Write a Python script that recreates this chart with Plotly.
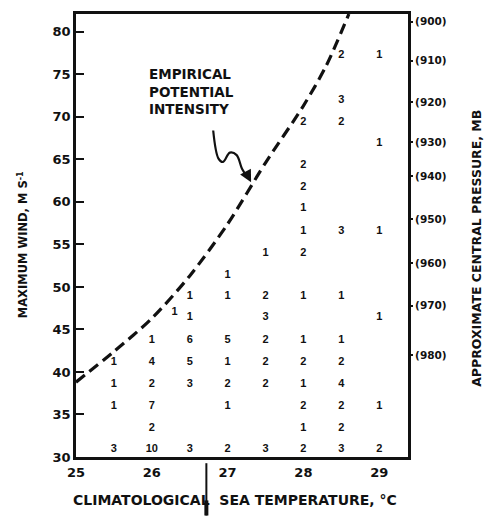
import plotly.graph_objects as go

# ---- data ----
point_temp = [25.5, 25.5, 25.5, 25.5,
              26.0, 26.0, 26.0, 26.0, 26.0, 26.0,
              26.3,
              26.5, 26.5, 26.5, 26.5, 26.5, 26.5,
              27.0, 27.0, 27.0, 27.0, 27.0, 27.0, 27.0,
              27.5, 27.5, 27.5, 27.5, 27.5, 27.5, 27.5,
              28.0, 28.0, 28.0, 28.0, 28.0, 28.0, 28.0, 28.0, 28.0, 28.0, 28.0, 28.0, 28.0,
              28.5, 28.5, 28.5, 28.5, 28.5, 28.5, 28.5, 28.5, 28.5, 28.5, 28.5,
              29.0, 29.0, 29.0, 29.0, 29.0, 29.0]
point_wind = [30.9, 36.0, 38.6, 41.2,
              30.9, 33.4, 36.0, 38.6, 41.2, 43.7,
              47.0,
              30.9, 38.6, 41.2, 43.7, 46.4, 48.9,
              30.9, 36.0, 38.6, 41.2, 43.7, 48.9, 51.4,
              30.9, 38.6, 41.2, 43.7, 46.4, 48.9, 54.0,
              30.9, 33.4, 36.0, 38.6, 41.2, 43.7, 48.9, 54.0, 56.6, 59.2, 61.7, 64.3, 69.4,
              30.9, 33.4, 36.0, 38.6, 41.2, 43.7, 48.9, 56.6, 69.4, 72.0, 77.2,
              30.9, 36.0, 46.4, 56.6, 66.9, 77.2]
point_count = [3, 1, 1, 1,
               10, 2, 7, 2, 4, 1,
               1,
               3, 3, 5, 6, 1, 1,
               2, 1, 2, 1, 5, 1, 1,
               3, 2, 2, 2, 3, 2, 1,
               2, 1, 2, 1, 2, 1, 1, 2, 1, 1, 2, 2, 2,
               3, 2, 2, 4, 2, 1, 1, 3, 2, 3, 2,
               2, 1, 1, 1, 1, 1]

curve_temp = [25.0, 25.5, 26.0, 26.5, 27.0, 27.5, 28.0, 28.3, 28.6]
curve_wind = [38.8, 42.4, 46.3, 51.3, 57.4, 64.6, 71.3, 76.0, 82.1]

x_ticks = [25, 26, 27, 28, 29]
y_ticks = [30, 35, 40, 45, 50, 55, 60, 65, 70, 75, 80]
pressure_labels = ["(900)", "(910)", "(920)", "(930)", "(940)", "(950)", "(960)", "(970)", "(980)"]
pressure_wind = [81.2, 76.6, 71.7, 67.0, 63.0, 58.0, 52.8, 47.8, 42.0]

arrow_temp = [26.81, 26.88, 26.94, 27.03, 27.12, 27.19, 27.27]
arrow_wind = [68.4, 65.1, 64.7, 65.8, 65.5, 63.9, 62.8]

FONT = "Liberation Sans"
TFONT = "DejaVu Sans"
INK = "#111111"

fig = go.Figure()

fig.add_trace(go.Scatter(
    x=curve_temp, y=curve_wind, mode="lines",
    line=dict(color=INK, width=3.2, dash="11px,6px", shape="spline", smoothing=0.8),
    hoverinfo="skip", showlegend=False))

fig.add_trace(go.Scatter(
    x=point_temp, y=point_wind, mode="text",
    text=[str(c) for c in point_count],
    textfont=dict(family=FONT, size=11, color=INK, weight="bold"),
    textposition="middle center", showlegend=False, hoverinfo="skip"))

# squiggly pointer line
fig.add_trace(go.Scatter(
    x=arrow_temp, y=arrow_wind, mode="lines",
    line=dict(color=INK, width=2.2, shape="spline", smoothing=1.0),
    hoverinfo="skip", showlegend=False))

# invisible trace so the right axis is drawn
fig.add_trace(go.Scatter(x=[25], y=[30], yaxis="y2", mode="markers",
                         marker=dict(opacity=0), showlegend=False, hoverinfo="skip"))

fig.add_annotation(x=26.53, y=73.0, xref="x", yref="y",
                   text="EMPIRICAL<br>POTENTIAL<br>INTENSITY", showarrow=False,
                   font=dict(family=TFONT, size=13.5, color=INK, weight="bold"),
                   align="left")
fig.add_annotation(x=27.31, y=62.3, ax=27.24, ay=63.5, xref="x", yref="y",
                   axref="x", ayref="y", text="", showarrow=True,
                   arrowhead=2, arrowsize=1.1, arrowwidth=2.2, arrowcolor=INK)

# axis titles
fig.add_annotation(x=0.479, y=-0.098, xref="paper", yref="paper",
                   text="CLIMATOLOGICAL  SEA TEMPERATURE, °C", showarrow=False,
                   xanchor="center", yanchor="middle",
                   font=dict(family=TFONT, size=14, color=INK, weight="bold"))
fig.add_annotation(x=-0.16, y=0.48, xref="paper", yref="paper",
                   text="MAXIMUM WIND, M S<sup>-1</sup>", showarrow=False, textangle=-90,
                   xanchor="center", yanchor="middle",
                   font=dict(family=TFONT, size=11.5, color=INK, weight="bold"))
fig.add_annotation(x=1.208, y=0.47, xref="paper", yref="paper",
                   text="APPROXIMATE CENTRAL PRESSURE, MB", showarrow=False, textangle=-90,
                   xanchor="center", yanchor="middle",
                   font=dict(family=TFONT, size=12.5, color=INK, weight="bold"))

# vertical marker below the x axis
fig.add_shape(type="line", xref="x", yref="paper", x0=26.72, x1=26.72,
              y0=-0.014, y1=-0.132, line=dict(color=INK, width=2))
fig.add_shape(type="line", xref="x", yref="paper", x0=26.72, x1=26.72,
              y0=-0.098, y1=-0.132, line=dict(color=INK, width=4))

axis_font = dict(family=TFONT, size=13, color=INK, weight="bold")
fig.update_layout(
    width=497, height=518,
    # the page body adds an 8px offset; margins compensate so the frame lands in place
    margin=dict(l=68, r=97, t=3, b=69),
    paper_bgcolor="white", plot_bgcolor="white",
    xaxis=dict(range=[25, 29.38], tickvals=x_ticks, ticktext=[str(t) for t in x_ticks],
               showgrid=False, zeroline=False, showline=True, linecolor=INK, linewidth=2.5,
               mirror=True, ticks="", tickfont=axis_font, ticklabelstandoff=2),
    yaxis=dict(range=[30, 82.1], tickvals=y_ticks, ticktext=[str(t) for t in y_ticks],
               showgrid=False, zeroline=False, showline=True, linecolor=INK, linewidth=2.5,
               mirror=True, ticks="inside", ticklen=8, tickwidth=2, tickcolor=INK,
               tickfont=axis_font),
    yaxis2=dict(range=[30, 82.1], overlaying="y", side="right",
                tickvals=pressure_wind, ticktext=pressure_labels,
                showgrid=False, zeroline=False, showline=False,
                ticks="outside", ticklen=4, tickwidth=1.5, tickcolor=INK,
                tickfont=dict(family=TFONT, size=10.5, color=INK, weight="bold")),
)

fig.write_html("out.html")
